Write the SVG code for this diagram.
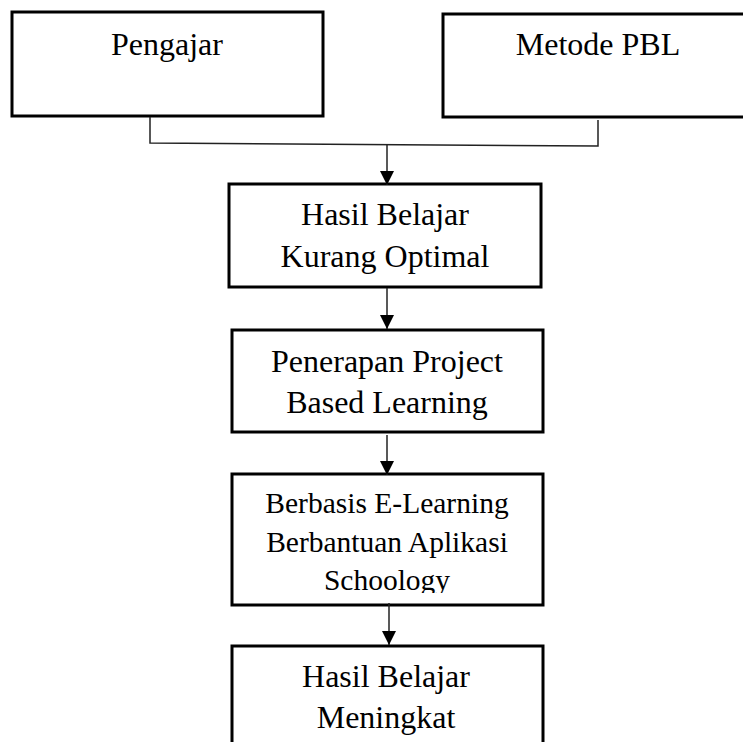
<svg xmlns="http://www.w3.org/2000/svg" width="743" height="742" viewBox="0 0 743 742">
<style>
.box{fill:#fff;stroke:#000;stroke-width:3}
.t{font-family:"Liberation Serif","Times New Roman",serif;font-size:32px;fill:#000;text-anchor:middle}
.t2{font-family:"Liberation Serif","Times New Roman",serif;font-size:29.5px;fill:#000;text-anchor:middle}
.c{fill:none;stroke:#222;stroke-width:1.5}
</style>
<defs>
<marker id="ah" markerUnits="userSpaceOnUse" markerWidth="16" markerHeight="16" refX="14" refY="7" orient="auto">
<path d="M0,0 L14,7 L0,14 Z" fill="#000"/>
</marker>
<clipPath id="clip4"><rect x="232" y="474" width="311" height="119"/></clipPath>
</defs>
<rect width="743" height="742" fill="#fff"/>
<g id="n1">
<rect class="box" x="12" y="12" width="311" height="104"/>
<text class="t" x="167" y="55">Pengajar</text>
</g>
<g id="n2">
<rect class="box" x="443" y="14" width="312" height="103"/>
<text class="t" x="598" y="55">Metode PBL</text>
</g>
<g id="n3">
<rect class="box" x="229" y="184" width="312" height="103"/>
<text class="t" x="385" y="225">Hasil Belajar</text>
<text class="t" x="385" y="267">Kurang Optimal</text>
</g>
<g id="n4">
<rect class="box" x="232" y="330" width="311" height="102"/>
<text class="t" x="387" y="372">Penerapan Project</text>
<text class="t" x="387" y="413">Based Learning</text>
</g>
<g id="n5">
<rect class="box" x="232" y="474" width="311" height="131"/>
<g clip-path="url(#clip4)">
<text class="t2" x="387" y="513">Berbasis E-Learning</text>
<text class="t2" x="387" y="552">Berbantuan Aplikasi</text>
<text class="t2" x="387" y="590">Schoology</text>
</g>
</g>
<g id="n6">
<rect class="box" x="232" y="646" width="311" height="110"/>
<text class="t" x="386" y="687">Hasil Belajar</text>
<text class="t" x="386" y="728">Meningkat</text>
</g>
<g id="connectors">
<path class="c" d="M150,117 L150,143 L598,146 L598,120"/>
<line class="c" x1="387" y1="144" x2="387" y2="185" marker-end="url(#ah)"/>
<line class="c" x1="387" y1="288" x2="387" y2="329" marker-end="url(#ah)"/>
<line class="c" x1="387" y1="435" x2="387" y2="475" marker-end="url(#ah)"/>
<line class="c" x1="389" y1="603" x2="389" y2="645" marker-end="url(#ah)"/>
</g>
</svg>
